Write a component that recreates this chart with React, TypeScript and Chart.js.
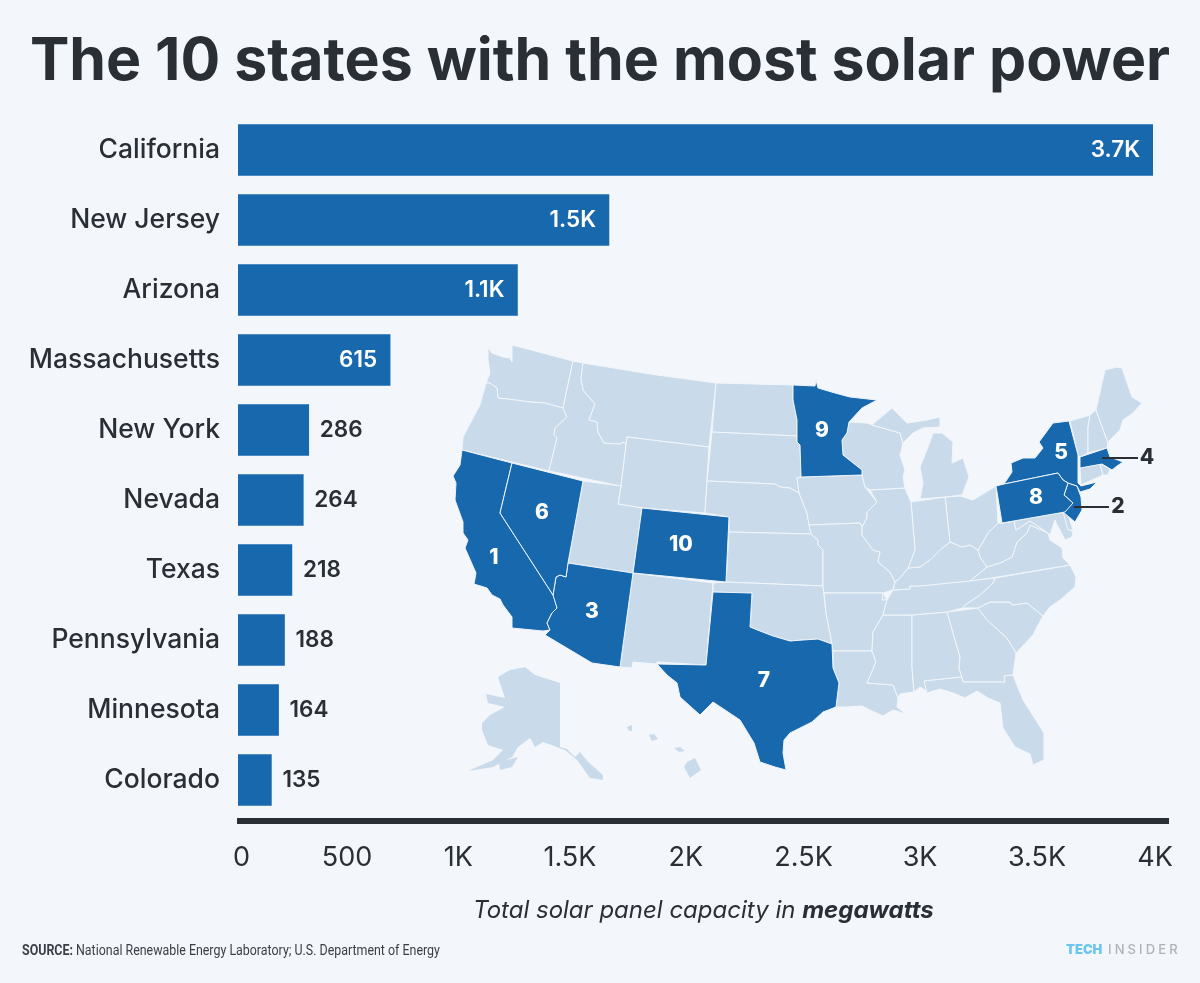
import React, { useEffect, useRef } from "react";
import { Chart, registerables } from "chart.js";

Chart.register(...registerables);

const categories = ["California","New Jersey","Arizona","Massachusetts","New York","Nevada","Texas","Pennsylvania","Minnesota","Colorado"];
const capacity = [3700, 1500, 1130, 615, 286, 264, 218, 188, 164, 135];
const valueLabels = ["3.7K","1.5K","1.1K","615","286","264","218","188","164","135"];
const tickLabels = ["0","500","1K","1.5K","2K","2.5K","3K","3.5K","4K"];
const tickSpots = [14, 441, 891, 1342, 1811, 2287, 2758, 3231, 3708];
const rankedStates = ["CA","NJ","AZ","MA","NY","NV","TX","PA","MN","CO"];

const BG = "#f3f7fc", LAND = "#c9dbea", BLUE = "#1868ae", INK = "#2a2e35";
const FONT = "Inter, 'Noto Sans', sans-serif";

type Pts = number[];
const OUTLINES: Record<string, Pts> = {
  WA:[488,348,492,353,503,357,510,358,512,362,512,345,573,361,563,408,545,403,530,402,508,399,498,398,497,388,490,383,486,383,490,373,488,360],
  OR:[486,383,490,383,497,388,498,398,508,399,530,402,545,403,563,408,567,417,555,428,554,435,557,438,549,471,462,450,463,437,480,405],
  ID:[573,361,583,363,581,378,583,390,595,404,589,420,597,422,598,432,604,443,620,444,623,442,626,444,627,437,621,486,549,471,557,438,554,435,555,428,567,417,563,408],
  MT:[583,363,650,374,716,383,709,447,627,437,626,444,623,442,620,444,604,443,598,432,597,422,589,420,595,404,583,390,581,378],
  WY:[627,437,709,447,705,513,642,508,618,504,621,486],
  UT:[583,481,621,486,618,504,642,508,633,573,568,563],
  NM:[633,573,713,583,706,665,657,662,657,664,633,662,632,668,620,667],
  ND:[716,383,793,385,793,400,797,420,797,436,712,432],
  SD:[712,432,797,436,797,442,800,445,801,477,797,478,799,493,790,488,780,487,775,484,707,481],
  NE:[707,481,775,484,780,487,790,488,799,493,807,513,811,534,729,532,729,517,705,513],
  KS:[729,532,811,534,818,540,818,545,823,550,823,586,726,582],
  OK:[713,583,726,582,823,586,826,613,832,644,818,639,803,640,790,641,780,638,773,636,760,631,750,627,752,593,713,592],
  IA:[801,477,862,475,865,487,877,502,867,512,867,518,862,527,860,523,809,525,807,513,799,493,797,478],
  MO:[809,525,860,523,862,527,862,535,873,550,880,552,878,562,890,572,895,582,893,590,883,593,882,600,887,600,883,593,824,593,823,586,823,550,818,545,818,540,811,534],
  AR:[824,593,883,593,882,600,887,600,883,615,873,632,872,651,833,651,832,644,826,613],
  LA:[833,651,872,651,876,662,867,683,893,685,898,698,897,707,906,714,893,710,883,716,870,710,862,706,847,707,836,707,839,683,833,668],
  MS:[883,615,912,615,912,667,914,692,900,694,898,698,893,685,867,683,876,662,872,651,873,632],
  AL:[912,615,947,612,960,657,959,668,962,677,924,681,928,692,920,687,914,692,912,667],
  GA:[947,612,978,608,987,620,1007,638,1016,653,1013,675,1004,676,1005,682,963,682,962,677,959,668,960,657],
  FL:[924,681,962,677,963,682,1005,682,1004,676,1013,675,1023,700,1044,733,1044,760,1033,765,1030,754,1015,747,1003,728,1000,703,988,698,977,691,965,698,953,693,940,689,927,693],
  SC:[978,608,990,602,1010,602,1012,605,1027,603,1043,616,1037,627,1033,635,1016,653,1007,638,987,620],
  NC:[995,578,1070,565,1076,577,1075,587,1060,600,1050,607,1043,616,1027,603,1012,605,1010,602,990,602,978,608,963,608,965,605,980,595,993,583],
  TN:[893,590,910,589,910,586,995,578,993,583,980,595,965,605,963,608,947,612,912,615,883,615,887,600],
  KY:[920,567,930,560,940,550,950,542,962,547,970,545,978,550,980,557,987,567,970,581,920,586,910,586,910,589,893,590,895,582,900,578,908,568],
  VA:[970,581,987,567,1000,563,1012,557,1017,542,1027,533,1030,525,1048,533,1050,540,1062,548,1063,558,1070,565,992,578],
  WV:[998,523,1002,523,1014,521,1016,530,1030,521,1048,533,1030,525,1027,533,1017,542,1012,557,1000,563,987,567,980,557,978,550,983,542,988,533],
  OH:[945,497,960,496,973,500,996,486,998,523,988,533,983,542,978,550,970,545,962,547,950,542],
  IN:[911,502,945,497,950,542,940,550,930,560,920,567,908,568,915,550],
  IL:[870,490,905,488,907,493,911,502,915,550,908,568,900,578,895,582,890,572,878,562,880,552,873,550,862,535,862,527,867,518,867,512,877,502],
  WI:[862,475,862,470,843,455,842,440,847,433,849,422,867,423,872,425,900,433,903,443,900,455,905,470,903,477,905,488,870,490,865,487],
  MIU:[872,425,880,418,892,408,897,413,907,423,927,420,940,417,940,427,923,428,913,433,903,443,900,433],
  MIL:[933,433,942,433,953,442,952,463,963,458,969,477,962,495,945,497,920,499,923,483,920,467,928,447],
  VT:[1070,421,1090,415,1088,427,1088,453,1080,457,1078,455],
  NH:[1090,415,1096,410,1108,443,1107,448,1088,453,1088,427],
  ME:[1096,410,1102,383,1105,370,1117,367,1122,368,1132,397,1142,403,1133,413,1123,420,1120,430,1110,440,1108,443],
  CT:[1080,468,1100,464,1103,475,1081,485],
  RI:[1100,464,1110,469,1108,475,1103,475],
  MD:[1002,523,1065,512,1070,530,1073,532,1072,537,1065,540,1060,530,1057,525,1055,520,1050,535,1048,533,1030,521,1016,530,1014,521],
  DE:[1063,512,1067,511,1073,530,1068,530],
  CA:[462,450,512,463,500,513,553,595,555,600,557,608,552,613,547,623,550,630,543,631,512,628,512,617,503,605,500,599,492,595,487,588,474,584,476,573,465,548,468,540,463,533,463,522,455,500,456,483,453,476,460,465],
  NV:[512,463,583,481,568,563,566,577,560,575,556,577,553,595,500,513],
  AZ:[568,563,633,573,620,667,592,663,545,635,550,630,547,623,552,613,557,608,553,595,556,577,560,575,566,577],
  CO:[642,508,729,517,726,582,633,573],
  TX:[713,592,752,593,750,627,760,631,773,636,780,638,790,641,803,640,818,639,832,644,833,668,839,683,836,707,823,712,812,722,790,733,784,740,783,753,786,770,775,767,760,762,754,743,740,720,713,702,700,715,680,697,677,683,667,675,657,664,706,665],
  MN:[793,385,815,386,816,380,818,388,835,393,850,397,877,400,862,408,849,422,847,433,842,440,843,455,862,470,862,475,801,477,800,445,797,442,797,436,797,420,793,400],
  PA:[996,486,1004,484,1058,473,1063,480,1068,483,1064,495,1073,503,1065,512,1002,523],
  NY:[1004,484,1012,472,1011,463,1023,458,1035,458,1043,448,1039,442,1053,423,1069,421,1078,455,1078,483,1081,486,1097,482,1090,489,1080,492,1077,486,1068,483,1063,480,1058,473],
  NJ:[1068,483,1077,486,1081,497,1082,510,1075,522,1063,512,1073,503,1064,495],
  MA:[1080,457,1107,448,1110,457,1123,462,1117,466,1112,470,1102,464,1080,468],
  AK:[498,677,510,670,525,667,535,675,560,683,560,747,567,749,575,757,580,752,588,762,603,775,603,780,590,778,577,760,565,750,543,742,535,747,530,738,518,747,512,757,493,767,468,771,493,760,503,750,488,745,482,730,482,723,490,715,503,708,505,707,488,703,486,694,505,698],
  AK2:[499,762,518,757,512,767,500,770],
  HI1:[627,727,632,725,632,731,629,731],
  HI2:[649,735,654,734,658,739,652,741],
  HI3:[674,748,680,747,685,751,679,752],
  HI4:[687,762,695,758,701,770,690,778,684,767],
};

const RANK_TEXT: [string, number, number, string][] = [
  ["1",494,558,"#fff"],["6",542,513,"#fff"],["10",681,545,"#fff"],["3",592,612,"#fff"],["7",764,681,"#fff"],
  ["9",822,431,"#fff"],["5",1061,453,"#fff"],["8",1036,498,"#fff"],["4",1147,458,INK],["2",1118,507,INK],
];

const trace = (ctx: CanvasRenderingContext2D, p: Pts) => {
  ctx.beginPath();
  ctx.moveTo(p[0], p[1]);
  for (let i = 2; i < p.length; i += 2) ctx.lineTo(p[i], p[i + 1]);
  ctx.closePath();
};

const paperPlugin = {
  id: "paper",
  beforeDraw(c: any) {
    c.ctx.save();
    c.ctx.fillStyle = BG;
    c.ctx.fillRect(0, 0, c.width, c.height);
    c.ctx.restore();
  },
};

const mapPlugin = {
  id: "map",
  beforeDatasetsDraw(c: any) {
    const ctx: CanvasRenderingContext2D = c.ctx;
    ctx.save();
    ctx.lineJoin = "round";
    ctx.lineWidth = 1;
    const noStroke = (k: string) => k.startsWith("AK") || k.startsWith("HI");
    Object.keys(OUTLINES).forEach((k) => {
      if (rankedStates.includes(k)) return;
      trace(ctx, OUTLINES[k]);
      ctx.fillStyle = LAND;
      ctx.fill();
      if (!noStroke(k)) { ctx.strokeStyle = "#f2f6fb"; ctx.stroke(); }
    });
    rankedStates.forEach((k) => {
      trace(ctx, OUTLINES[k]);
      ctx.fillStyle = BLUE;
      ctx.fill();
      ctx.strokeStyle = "#eef4fa";
      ctx.stroke();
    });
    ctx.strokeStyle = INK;
    ctx.lineWidth = 2;
    ctx.beginPath();
    ctx.moveTo(1102, 458); ctx.lineTo(1138, 458);
    ctx.moveTo(1074, 507); ctx.lineTo(1109, 507);
    ctx.stroke();
    ctx.font = `800 21px ${FONT}`;
    ctx.textAlign = "center";
    ctx.textBaseline = "middle";
    RANK_TEXT.forEach(([t, x, y, col]) => {
      ctx.fillStyle = col;
      ctx.fillText(t, x, y);
    });
    ctx.restore();
  },
};

const decorPlugin = {
  id: "decor",
  afterDraw(c: any) {
    const ctx: CanvasRenderingContext2D = c.ctx;
    const { left, right, bottom } = c.chartArea;
    ctx.save();
    // axis rule
    ctx.fillStyle = INK;
    ctx.fillRect(left - 1, bottom + 3, right - left + 17, 6);

    // value labels
    const meta = c.getDatasetMeta(0);
    ctx.font = `600 22.5px ${FONT}`;
    ctx.textBaseline = "middle";
    meta.data.forEach((bar: any, i: number) => {
      const inside = capacity[i] > 500;
      ctx.fillStyle = inside ? "#fff" : INK;
      ctx.textAlign = inside ? "right" : "left";
      ctx.fillText(valueLabels[i], bar.x + (inside ? -13 : 11), bar.y);
    });

    // axis caption
    ctx.textAlign = "left";
    ctx.fillStyle = INK;
    const a = "Total solar panel capacity in ", b = "megawatts";
    ctx.font = `italic 400 24px ${FONT}`;
    const wa = ctx.measureText(a).width;
    ctx.fillText(a, 473, 911);
    ctx.font = `italic 700 24px ${FONT}`;
    ctx.fillText(b, 473 + wa, 911);

    // source, condensed by a horizontal squeeze
    ctx.save();
    ctx.translate(22, 951);
    ctx.scale(0.856, 1);
    ctx.fillStyle = "#3a3e45";
    ctx.font = `700 14.5px Roboto, sans-serif`;
    const s = "SOURCE: ";
    ctx.fillText(s, 0, 0);
    const ws = ctx.measureText(s).width;
    ctx.font = `400 14.5px Roboto, sans-serif`;
    ctx.fillText("National Renewable Energy Laboratory; U.S. Department of Energy", ws, 0);
    ctx.restore();

    // brand
    ctx.font = `900 13px ${FONT}`;
    ctx.fillStyle = "#6cc5ef";
    ctx.fillText("TECH", 1066, 950);
    ctx.font = `500 13px ${FONT}`;
    ctx.fillStyle = "#aeb3b9";
    (ctx as any).letterSpacing = "3.1px";
    ctx.fillText("INSIDER", 1108, 950);
    ctx.restore();
  },
};

export default function App() {
  const ref = useRef<HTMLCanvasElement>(null);
  useEffect(() => {
    document.body.style.margin = "0";
    const chart = new Chart(ref.current!, {
      type: "bar",
      data: {
        labels: categories,
        datasets: [{ data: capacity, backgroundColor: BLUE, barThickness: 51, borderWidth: 0 }],
      },
      options: {
        indexAxis: "y",
        responsive: false,
        animation: false,
        devicePixelRatio: 1,
        layout: { padding: 0 },
        plugins: {
          legend: { display: false },
          tooltip: { enabled: false },
          title: {
            display: true,
            text: "The 10 states with the most solar power",
            color: INK,
            font: { family: FONT, size: 59, weight: "700" },
            padding: { top: 27, bottom: 17.2 },
          },
        },
        scales: {
          x: {
            type: "linear",
            min: 0,
            max: 3700,
            grid: { display: false, drawTicks: false },
            border: { display: false },
            afterBuildTicks: (s: any) => { s.ticks = tickSpots.map((value) => ({ value })); },
            afterFit: (s: any) => { s.height = 168; s.paddingRight = 47; s.paddingLeft = 0; },
            ticks: {
              autoSkip: false,
              maxRotation: 0,
              padding: 27,
              color: INK,
              font: { family: FONT, size: 27, weight: "400" },
              callback: (_v: any, i: number) => tickLabels[i],
            },
          },
          y: {
            grid: { display: false, drawTicks: false },
            border: { display: false },
            afterFit: (s: any) => { s.width = 238; },
            ticks: {
              autoSkip: false,
              padding: 18,
              color: INK,
              font: { family: FONT, size: 26.5, weight: "500" },
            },
          },
        },
      },
      plugins: [paperPlugin, mapPlugin, decorPlugin],
    } as any);
    return () => chart.destroy();
  }, []);
  return (
    <div style={{ position: "fixed", left: 0, top: 0, width: 1200, height: 983, background: BG }}>
      <canvas ref={ref} width={1200} height={983} style={{ display: "block" }} />
    </div>
  );
}
